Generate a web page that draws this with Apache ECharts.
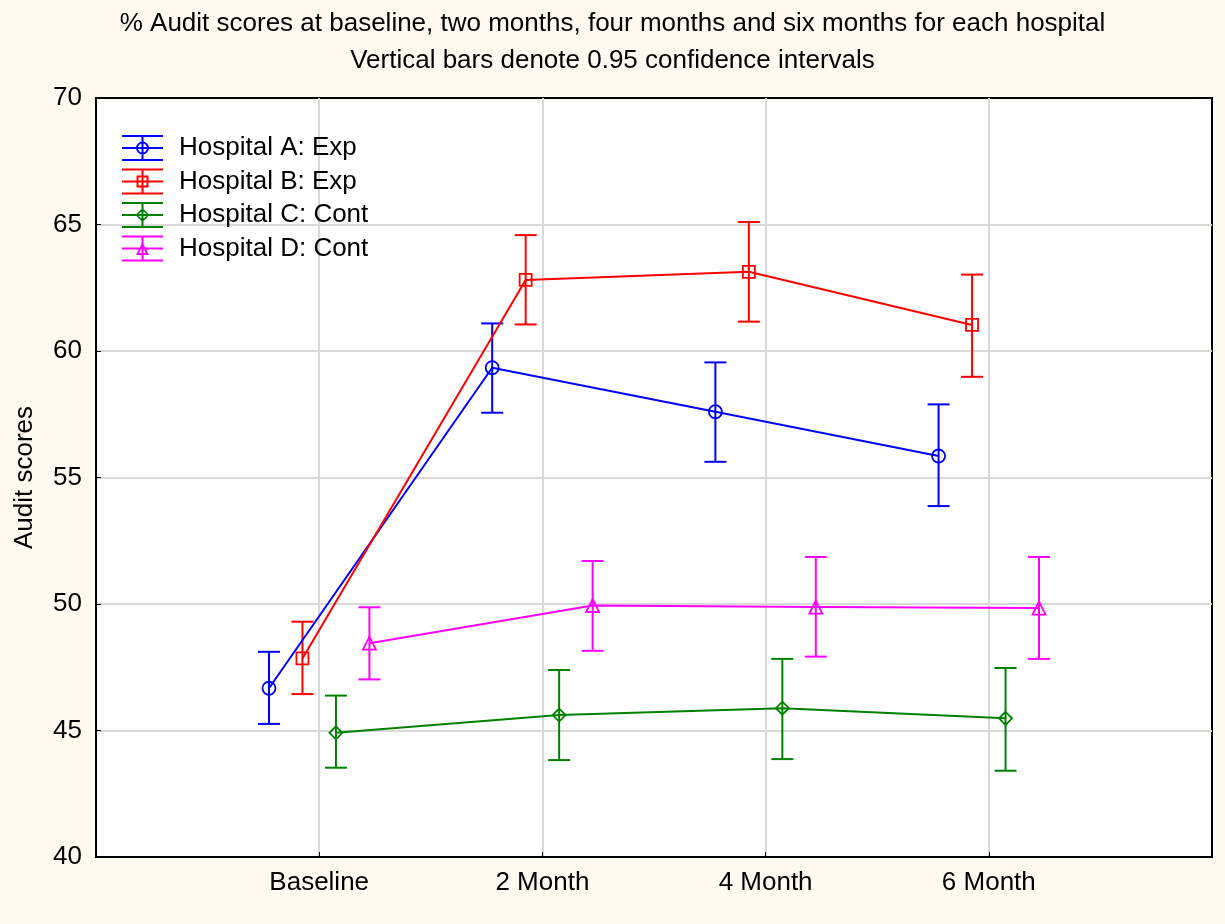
<!DOCTYPE html>
<html lang="en">
<head>
    <meta charset="UTF-8">
    <title>Audit scores</title>
    <script type="text/javascript" src="https://cdn.jsdelivr.net/npm/echarts@6/dist/echarts.min.js"></script>
    <style>
        html, body { margin: 0; padding: 0; background: #fffaef; }
    </style>
</head>
<body>
<div id="audit" style="width:1225px; height:924px;"></div>
<script>
    // time points
    var categories = ['Baseline', '2 Month', '4 Month', '6 Month'];
    var seriesNames = ['Hospital A: Exp', 'Hospital B: Exp', 'Hospital C: Cont', 'Hospital D: Cont'];

    // mean audit scores
    var meanA = [46.67, 59.34, 57.60, 55.85];
    var meanB = [47.85, 62.81, 63.13, 61.03];
    var meanC = [44.91, 45.61, 45.88, 45.48];
    var meanD = [48.45, 49.94, 49.88, 49.84];

    // 0.95 confidence limits
    var lowA = [45.26, 57.56, 55.62, 53.87];
    var highA = [48.11, 61.09, 59.55, 57.89];
    var lowB = [46.44, 61.05, 61.16, 58.98];
    var highB = [49.30, 64.58, 65.10, 63.02];
    var lowC = [43.53, 43.83, 43.87, 43.41];
    var highC = [46.38, 47.39, 47.83, 47.47];
    var lowD = [47.02, 48.15, 47.92, 47.83];
    var highD = [49.87, 51.70, 51.86, 51.86];

    var yTicks = [40, 45, 50, 55, 60, 65, 70];

    // layout / style (not data)
    var offsets = [-0.225, -0.075, 0.075, 0.225];
    var colors = ['#0000ff', '#ff0000', '#008000', '#ff00ff'];
    var symbols = ['circle', 'rect', 'diamond', 'triangle'];
    var symbolSizes = [13, 12, 13, 13];
    var font = "'Liberation Sans', Arial, sans-serif";

    var means = [meanA, meanB, meanC, meanD];
    var lows = [lowA, lowB, lowC, lowD];
    var highs = [highA, highB, highC, highD];

    // legend glyphs: error bar with marker (rings cut with reverse winding)
    var bars = 'M0 0H41V2H0Z M0 12H41V14H0Z M0 24H41V26H0Z M19.5 0H21.5V26H19.5Z ';
    var markerPaths = [
        'M27 13A6.5 6.5 0 1 1 14 13A6.5 6.5 0 1 1 27 13Z M25 13A4.5 4.5 0 1 0 16 13A4.5 4.5 0 1 0 25 13Z',
        'M14.5 7H26.5V19H14.5Z M16.5 9V17H24.5V9Z',
        'M20.5 6L27.5 13L20.5 20L13.5 13Z M20.5 8.8L15.3 13L20.5 17.2L25.7 13Z',
        'M20.5 6.5L27 19.5H14Z M20.5 10.8L17.2 17.6H23.8Z'
    ];

    var chart = echarts.init(document.getElementById('audit'));

    var series = [];
    for (var s = 0; s < 4; s++) {
        var pts = [], bars2 = [];
        for (var i = 0; i < categories.length; i++) {
            var x = i + 1 + offsets[s];
            pts.push([x, means[s][i]]);
            bars2.push([x, lows[s][i], highs[s][i]]);
        }
        series.push({
            name: seriesNames[s],
            type: 'line',
            data: pts,
            symbol: symbols[s],
            symbolSize: symbolSizes[s],
            z: 3,
            lineStyle: {color: colors[s], width: 2},
            itemStyle: {color: 'rgba(0,0,0,0)', borderColor: colors[s], borderWidth: 1.8},
            emphasis: {disabled: true},
            animation: false
        });
        series.push({
            name: seriesNames[s],
            type: 'custom',
            data: bars2,
            encode: {x: 0, y: [1, 2]},
            z: 2,
            animation: false,
            renderItem: (function (col) {
                return function (params, api) {
                    var lo = api.coord([api.value(0), api.value(1)]);
                    var hi = api.coord([api.value(0), api.value(2)]);
                    var w = 11;
                    var st = {stroke: col, lineWidth: 2};
                    return {
                        type: 'group',
                        children: [
                            {type: 'line', shape: {x1: lo[0], y1: lo[1], x2: hi[0], y2: hi[1]}, style: st},
                            {type: 'line', shape: {x1: lo[0] - w, y1: lo[1], x2: lo[0] + w, y2: lo[1]}, style: st},
                            {type: 'line', shape: {x1: hi[0] - w, y1: hi[1], x2: hi[0] + w, y2: hi[1]}, style: st}
                        ]
                    };
                };
            })(colors[s])
        });
    }

    var legendData = [];
    for (var k = 0; k < 4; k++) {
        legendData.push({
            name: seriesNames[k],
            icon: 'path://' + bars + markerPaths[k],
            itemStyle: {color: colors[k], borderWidth: 0}
        });
    }

    var option = {
        backgroundColor: '#fffaef',
        animation: false,
        title: {
            text: '% Audit scores at baseline, two months, four months and six months for each hospital\nVertical bars denote 0.95 confidence intervals',
            left: 'center',
            top: 0,
            textStyle: {fontFamily: font, fontSize: 26, fontWeight: 'normal', color: '#000', lineHeight: 37, align: 'center'}
        },
        legend: {
            orient: 'vertical',
            left: 122,
            top: 135,
            padding: 0,
            itemWidth: 41,
            itemHeight: 26,
            itemGap: 7.5,
            selectedMode: false,
            data: legendData,
            textStyle: {fontFamily: font, fontSize: 26, color: '#000', padding: [0, 0, 0, 11]}
        },
        grid: {
            left: 96, top: 98, right: 13, bottom: 67,
            show: true,
            backgroundColor: '#ffffff',
            borderColor: '#000',
            borderWidth: 2
        },
        xAxis: {
            type: 'value',
            min: 0, max: 5, interval: 1,
            axisLine: {lineStyle: {color: '#000', width: 2}},
            axisTick: {inside: true, length: 5, lineStyle: {color: '#000'}},
            splitLine: {show: true, showMinLine: false, showMaxLine: false, lineStyle: {color: '#d9d9d9', width: 2}},
            axisLabel: {
                fontFamily: font, fontSize: 26, color: '#000', margin: 13,
                formatter: function (v) { return categories[v - 1] || ''; }
            }
        },
        yAxis: {
            type: 'value',
            min: yTicks[0], max: yTicks[yTicks.length - 1], interval: 5,
            name: 'Audit scores',
            nameLocation: 'middle',
            nameRotate: 90,
            nameGap: 58,
            nameTextStyle: {fontFamily: font, fontSize: 26, color: '#000'},
            axisLine: {show: true, lineStyle: {color: '#000', width: 2}},
            axisTick: {show: true, inside: true, length: 5, lineStyle: {color: '#000'}},
            splitLine: {show: true, showMinLine: false, showMaxLine: false, lineStyle: {color: '#d9d9d9', width: 2}},
            axisLabel: {fontFamily: font, fontSize: 26, color: '#000', margin: 14}
        },
        series: series
    };
    chart.setOption(option);
</script>
</body>
</html>
